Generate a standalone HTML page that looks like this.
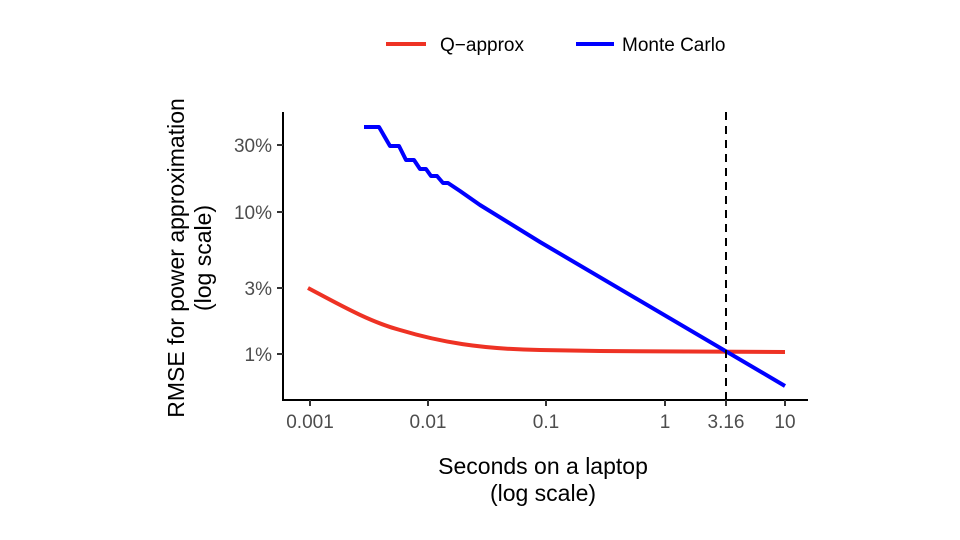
<!DOCTYPE html>
<html><head><style>
body{margin:0;background:#fff;}
svg{display:block;font-family:"Liberation Sans",sans-serif;}
</style></head><body>
<svg width="960" height="540" viewBox="0 0 960 540">
<rect width="960" height="540" fill="#fff"/>
<!-- legend -->
<line x1="386" y1="44" x2="426" y2="44" stroke="#ee3224" stroke-width="4"/>
<text x="440" y="51" font-size="19" fill="#000">Q−approx</text>
<line x1="576" y1="44" x2="614" y2="44" stroke="#0000ff" stroke-width="4"/>
<text x="622" y="51" font-size="19" fill="#000">Monte Carlo</text>
<!-- axes -->
<line x1="283" y1="112" x2="283" y2="401" stroke="#000" stroke-width="2"/>
<line x1="282" y1="400" x2="808" y2="400" stroke="#000" stroke-width="2"/>
<g stroke="#333" stroke-width="2">
<line x1="277" y1="145" x2="283" y2="145"/><line x1="277" y1="212" x2="283" y2="212"/>
<line x1="277" y1="288" x2="283" y2="288"/><line x1="277" y1="354" x2="283" y2="354"/>
<line x1="310" y1="400" x2="310" y2="406"/><line x1="428" y1="400" x2="428" y2="406"/>
<line x1="546" y1="400" x2="546" y2="406"/><line x1="665" y1="400" x2="665" y2="406"/>
<line x1="726" y1="400" x2="726" y2="406"/><line x1="785" y1="400" x2="785" y2="406"/>
</g>
<g font-size="19" fill="#4d4d4d" text-anchor="end">
<text x="272" y="152">30%</text><text x="272" y="219">10%</text>
<text x="272" y="295">3%</text><text x="272" y="361">1%</text>
</g>
<g font-size="19" fill="#4d4d4d" text-anchor="middle">
<text x="310" y="428">0.001</text><text x="428" y="428">0.01</text>
<text x="546" y="428">0.1</text><text x="665" y="428">1</text>
<text x="726" y="428">3.16</text><text x="785" y="428">10</text>
</g>
<text x="543" y="474" font-size="23" text-anchor="middle">Seconds on a laptop</text>
<text x="543" y="501" font-size="23" text-anchor="middle">(log scale)</text>
<text transform="translate(184,258) rotate(-90)" font-size="23" text-anchor="middle">RMSE for power approximation</text>
<text transform="translate(211,258) rotate(-90)" font-size="23" text-anchor="middle">(log scale)</text>
<!-- series -->
<path d="M308,288 C340,305 370,322 400,330 C440,342 480,349 540,350 L600,351 L785,352" fill="none" stroke="#ee3224" stroke-width="4"/>
<path d="M364,127 L379,127 L390,146 L399,146 L406,160 L414,160 L420,169 L426,169 L431,176 L437,176 L443,183 L448,183 L460,191 L470,198 L480,205 L540,242 L785,386" fill="none" stroke="#0000ff" stroke-width="4" stroke-linejoin="round"/>
<line x1="726" y1="112" x2="726" y2="400" stroke="#000" stroke-width="2" stroke-dasharray="8,6"/>
</svg>
</body></html>
